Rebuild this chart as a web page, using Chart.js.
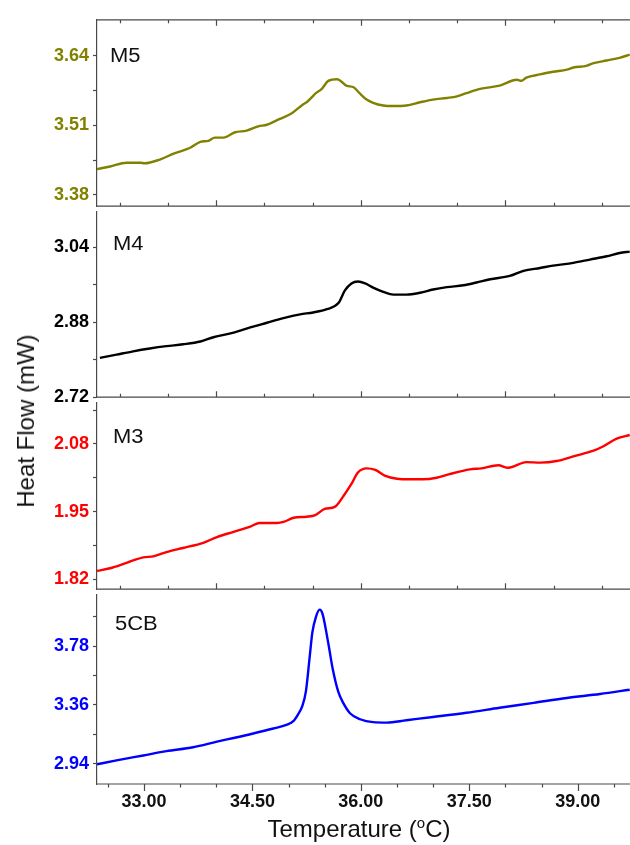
<!DOCTYPE html>
<html>
<head>
<meta charset="utf-8">
<script src="https://cdn.jsdelivr.net/npm/chart.js@4.4.1/dist/chart.umd.min.js"></script>
<style>
  html, body { margin: 0; padding: 0; background: #fff; }
  #wrap { position: relative; width: 630px; height: 845px; overflow: hidden; font-family: "Liberation Sans", Arial, sans-serif; }
  #wrap canvas { position: absolute; left: 0; }
  .tag { position: absolute; font-size: 20px; line-height: 20px; color: #111; transform: scaleX(1.1); transform-origin: left center; white-space: nowrap; }
  #ytitle { position: absolute; left: 26px; top: 421px; font-size: 24px; line-height: 24px; color: #111; white-space: nowrap; transform: translate(-50%, -50%) rotate(-90deg); }
  #xtitle { position: absolute; left: 359px; top: 829px; font-size: 24px; line-height: 24px; color: #111; white-space: nowrap; transform: translate(-50%, -50%); }
  #xtitle sup { font-size: 15px; line-height: 0; vertical-align: 9px; }
</style>
</head>
<body>
<div id="wrap">
  <canvas id="pM5" width="630" height="216" style="top:5px"></canvas>
  <canvas id="pM4" width="630" height="215" style="top:197px"></canvas>
  <canvas id="pM3" width="630" height="216" style="top:388px"></canvas>
  <canvas id="p5CB" width="630" height="265" style="top:580px"></canvas>
  <div class="tag" style="left:110px;top:45px">M5</div>
  <div class="tag" style="left:113px;top:233px">M4</div>
  <div class="tag" style="left:113px;top:426px">M3</div>
  <div class="tag" style="left:115px;top:613px">5CB</div>
  <div id="ytitle">Heat Flow (mW)</div>
  <div id="xtitle">Temperature (<sup>o</sup>C)</div>
</div>
<script>
// ---- DSC heating traces (temperature in °C, heat flow in mW) ----
const m5Temp = [32.35, 32.53, 32.76, 32.95, 33.01, 33.22, 33.41, 33.64, 33.78, 33.89, 33.98, 34.10, 34.26, 34.42, 34.58, 34.70, 34.88, 35.04, 35.20, 35.25, 35.32, 35.37, 35.46, 35.55, 35.67, 35.73, 35.80, 35.90, 35.99, 36.08, 36.17, 36.31, 36.45, 36.63, 36.82, 37.00, 37.19, 37.33, 37.46, 37.65, 37.92, 38.16, 38.22, 38.29, 38.48, 38.66, 38.85, 38.94, 39.12, 39.22, 39.40, 39.58, 39.72];
const m5Heat = [3.428, 3.433, 3.440, 3.440, 3.439, 3.446, 3.457, 3.468, 3.479, 3.481, 3.487, 3.487, 3.497, 3.500, 3.508, 3.511, 3.522, 3.532, 3.549, 3.553, 3.562, 3.569, 3.578, 3.593, 3.596, 3.592, 3.584, 3.581, 3.569, 3.558, 3.552, 3.547, 3.546, 3.547, 3.553, 3.558, 3.561, 3.564, 3.570, 3.578, 3.584, 3.595, 3.593, 3.599, 3.605, 3.610, 3.614, 3.618, 3.621, 3.626, 3.631, 3.636, 3.642];

const m4Temp = [32.39, 32.62, 32.85, 33.08, 33.31, 33.54, 33.78, 33.96, 34.24, 34.47, 34.70, 34.93, 35.16, 35.34, 35.53, 35.69, 35.78, 35.87, 35.96, 36.06, 36.17, 36.31, 36.45, 36.63, 36.82, 37.00, 37.19, 37.42, 37.60, 37.79, 38.06, 38.25, 38.48, 38.66, 38.94, 39.17, 39.40, 39.58, 39.72];
const m4Heat = [2.804, 2.811, 2.818, 2.824, 2.829, 2.833, 2.839, 2.848, 2.858, 2.869, 2.879, 2.889, 2.897, 2.901, 2.908, 2.921, 2.948, 2.963, 2.967, 2.963, 2.954, 2.945, 2.939, 2.939, 2.943, 2.950, 2.955, 2.959, 2.965, 2.972, 2.979, 2.990, 2.996, 3.001, 3.007, 3.014, 3.021, 3.028, 3.031];

const m3Temp = [32.35, 32.53, 32.71, 32.85, 32.99, 33.13, 33.31, 33.54, 33.82, 34.01, 34.24, 34.47, 34.60, 34.84, 34.93, 35.07, 35.25, 35.37, 35.50, 35.64, 35.76, 35.87, 35.96, 36.08, 36.20, 36.33, 36.50, 36.68, 36.86, 37.05, 37.23, 37.51, 37.67, 37.90, 38.04, 38.29, 38.48, 38.71, 38.94, 39.22, 39.35, 39.54, 39.72];
const m3Heat = [1.836, 1.841, 1.849, 1.856, 1.862, 1.864, 1.872, 1.880, 1.890, 1.901, 1.911, 1.921, 1.928, 1.928, 1.930, 1.938, 1.940, 1.943, 1.955, 1.959, 1.980, 2.003, 2.025, 2.033, 2.030, 2.019, 2.013, 2.012, 2.012, 2.015, 2.022, 2.031, 2.033, 2.039, 2.034, 2.045, 2.044, 2.047, 2.056, 2.067, 2.075, 2.090, 2.097];

const cbTemp = [32.35, 32.62, 32.99, 33.31, 33.68, 34.01, 34.24, 34.51, 34.79, 34.97, 35.07, 35.13, 35.19, 35.24, 35.29, 35.33, 35.38, 35.43, 35.47, 35.55, 35.61, 35.69, 35.76, 35.85, 35.99, 36.17, 36.36, 36.63, 37.00, 37.46, 37.92, 38.39, 38.85, 39.31, 39.72];
const cbHeat = [2.935, 2.963, 2.998, 3.029, 3.057, 3.097, 3.123, 3.155, 3.191, 3.217, 3.245, 3.290, 3.350, 3.456, 3.690, 3.879, 3.990, 4.040, 4.010, 3.800, 3.620, 3.450, 3.370, 3.300, 3.257, 3.236, 3.233, 3.250, 3.273, 3.303, 3.339, 3.374, 3.409, 3.437, 3.468];

// ---- axis ticks ----
const m5Ticks = [3.38, 3.51, 3.64];
const m5MinorTicks = [3.445, 3.575];
const m4Ticks = [2.72, 2.88, 3.04];
const m4MinorTicks = [2.80, 2.96];
const m3Ticks = [1.82, 1.95, 2.08];
const m3MinorTicks = [1.885, 2.015, 2.145];
const cbTicks = [2.94, 3.36, 3.78];
const cbMinorTicks = [3.15, 3.57, 3.99];

const tempTicks = [33, 34.5, 36, 37.5, 39];
const tempMinorTicks = [32.5, 33.5, 34, 35, 35.5, 36.5, 37, 38, 38.5, 39.5];
const innerTicks = [34, 36, 38];
const innerMinorTicks = [32.667, 33.333, 34.667, 35.333, 36.667, 37.333, 38.667, 39.333];

const X_MIN = 32.35, X_MAX = 39.724;
const FRAME = '#4a4a4a';

Chart.defaults.font.family = '"Liberation Sans", Arial, sans-serif';

// Frame lines and x tick marks for each stacked panel
const framePlugin = {
  id: 'frame',
  afterDatasetsDraw(chart, args, o) {
    const { ctx, chartArea: a } = chart;
    const x = chart.scales.x;
    ctx.save();
    ctx.strokeStyle = FRAME;
    ctx.lineWidth = 1.2;
    ctx.beginPath();
    if (o.top) { ctx.moveTo(a.left, a.top); ctx.lineTo(a.right, a.top); }
    ctx.moveTo(a.left, a.bottom); ctx.lineTo(a.right, a.bottom);
    const mark = (v, y, len) => {
      const px = Math.round(x.getPixelForValue(v)) + 0.5;
      ctx.moveTo(px, y); ctx.lineTo(px, y + len);
    };
    if (o.inner) {
      innerTicks.forEach(v => { mark(v, a.bottom, -6); if (o.top) mark(v, a.top, 6); });
      innerMinorTicks.forEach(v => { mark(v, a.bottom, -3.5); if (o.top) mark(v, a.top, 3.5); });
    } else {
      tempTicks.forEach(v => mark(v, a.bottom, 7));
      tempMinorTicks.forEach(v => mark(v, a.bottom, 3.5));
    }
    ctx.stroke();
    ctx.restore();
  }
};

function panel(id, p) {
  const showX = !!p.showX;
  return new Chart(document.getElementById(id), {
    type: 'line',
    data: {
      datasets: [{
        data: p.temp.map((t, i) => ({ x: t, y: p.heat[i] })),
        borderColor: p.color,
        borderWidth: 2.4,
        pointRadius: 0,
        fill: false,
        cubicInterpolationMode: 'monotone'
      }]
    },
    options: {
      responsive: false,
      animation: false,
      devicePixelRatio: 1,
      layout: { padding: { top: 12, bottom: showX ? 21 : 12, left: 0, right: 0 } },
      plugins: {
        legend: { display: false },
        tooltip: { enabled: false },
        frame: { top: !!p.top, inner: !showX }
      },
      scales: {
        x: {
          type: 'linear',
          min: X_MIN,
          max: X_MAX,
          display: showX,
          afterFit: s => { s.height = showX ? 40 : 0; },
          afterBuildTicks: s => { s.ticks = tempTicks.map(v => ({ value: v })); },
          ticks: {
            autoSkip: false,
            maxRotation: 0,
            color: '#111',
            padding: 7,
            font: { size: 18, weight: 'bold' },
            callback: v => Number(v).toFixed(2)
          },
          grid: { drawOnChartArea: false, drawTicks: false },
          border: { display: false }
        },
        y: {
          type: 'linear',
          min: p.yMin,
          max: p.yMax,
          afterFit: s => { s.width = 97; },
          afterBuildTicks: s => {
            s.ticks = p.ticks.concat(p.minor).sort((a, b) => a - b).map(v => ({ value: v }));
          },
          ticks: {
            autoSkip: false,
            color: p.color,
            padding: 4,
            font: { size: 18, weight: 'bold' },
            callback: v => p.ticks.includes(v) ? Number(v).toFixed(2) : ''
          },
          grid: { drawOnChartArea: false, drawTicks: true, tickLength: 4, tickColor: FRAME, tickWidth: 1.2 },
          border: { display: true, color: FRAME, width: 1.2 }
        }
      }
    },
    plugins: [framePlugin]
  });
}

panel('pM5', { temp: m5Temp, heat: m5Heat, color: '#818100', yMin: 3.3588, yMax: 3.7071, ticks: m5Ticks, minor: m5MinorTicks, top: true });
panel('pM4', { temp: m4Temp, heat: m4Heat, color: '#000000', yMin: 2.72, yMax: 3.116, ticks: m4Ticks, minor: m4MinorTicks });
panel('pM3', { temp: m3Temp, heat: m3Heat, color: '#ff0000', yMin: 1.8008, yMax: 2.1589, ticks: m3Ticks, minor: m3MinorTicks });
panel('p5CB', { temp: cbTemp, heat: cbHeat, color: '#0000ff', yMin: 2.7943, yMax: 4.1461, ticks: cbTicks, minor: cbMinorTicks, showX: true });
</script>
</body>
</html>
